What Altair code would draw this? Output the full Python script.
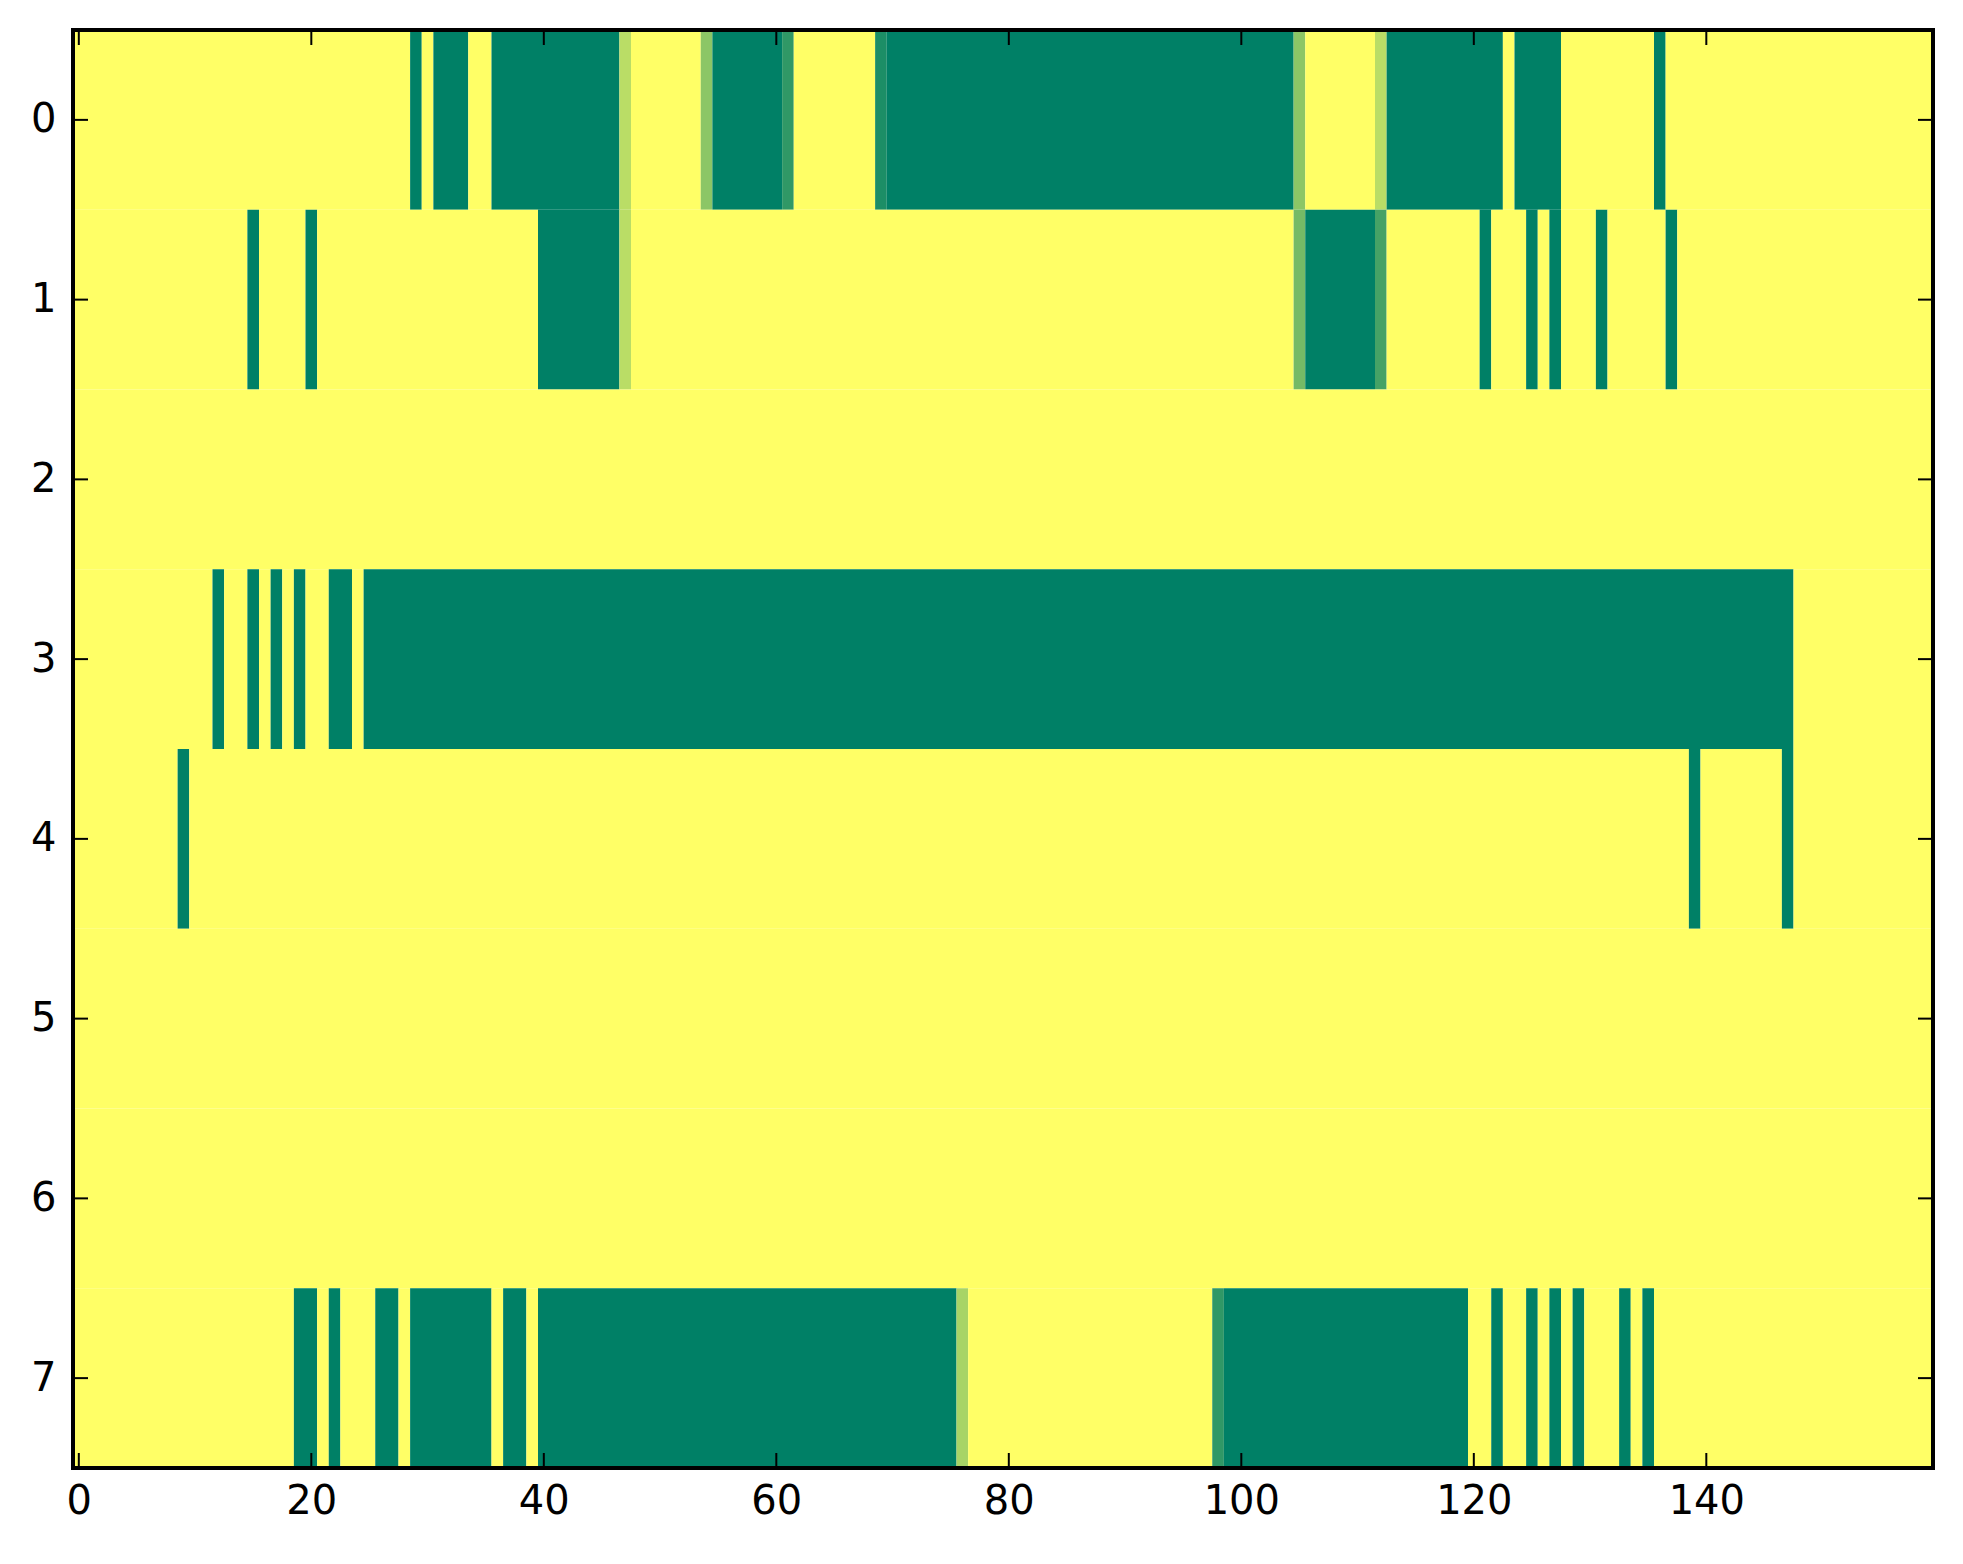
import altair as alt
import pandas as pd

n_cols = 160
n_rows = 8

# runs of fully "on" cells per row (first, last column, inclusive)
row0_runs = [(29, 29), (31, 33), (36, 46), (55, 60), (70, 104), (113, 122), (124, 127), (136, 136)]
row1_runs = [(15, 15), (20, 20), (40, 46), (106, 111), (121, 121), (125, 125), (127, 127), (131, 131), (137, 137)]
row2_runs = []
row3_runs = [(12, 12), (15, 15), (17, 17), (19, 19), (22, 23), (25, 147)]
row4_runs = [(9, 9), (139, 139), (147, 147)]
row5_runs = []
row6_runs = []
row7_runs = [(19, 20), (22, 22), (26, 27), (29, 35), (37, 38), (40, 75), (99, 119),
             (122, 122), (125, 125), (127, 127), (129, 129), (133, 133), (135, 135)]

# cells with in-between values (column: value)
row0_partial = {47: 0.27, 54: 0.45, 61: 0.81, 69: 0.89, 105: 0.45, 112: 0.27}
row1_partial = {47: 0.27, 105: 0.54, 112: 0.73}
row7_partial = {76: 0.34, 98: 0.81}

x_ticks = [0, 20, 40, 60, 80, 100, 120, 140]
y_ticks = [0, 1, 2, 3, 4, 5, 6, 7]

all_runs = [row0_runs, row1_runs, row2_runs, row3_runs, row4_runs, row5_runs, row6_runs, row7_runs]
all_partial = {0: row0_partial, 1: row1_partial, 7: row7_partial}

# full grid, then neighbouring cells of equal value joined into one rect (no seams)
records = []
for r in range(n_rows):
    vals = [0.0] * n_cols
    for a, b in all_runs[r]:
        for c in range(a, b + 1):
            vals[c] = 1.0
    for c, v in all_partial.get(r, {}).items():
        vals[c] = v
    start = 0
    for c in range(1, n_cols + 1):
        if c == n_cols or vals[c] != vals[start]:
            records.append({"row": r, "x0": start - 0.5, "x1": c - 0.5,
                            "y0": r - 0.5, "y1": r + 0.5, "value": vals[start]})
            start = c
cells = pd.DataFrame(records)

W, H = 1860, 1438
TICK = 15
font = "DejaVu Sans"

cmap = alt.Scale(domain=[0, 1], range=["#ffff66", "#008066"], interpolate="rgb")
x_scale = alt.Scale(domain=[-0.5, n_cols - 0.5], nice=False, zero=False)
y_scale = alt.Scale(domain=[-0.5, n_rows - 0.5], nice=False, zero=False, reverse=True)

x_axis = alt.Axis(values=x_ticks, ticks=False, domain=False, grid=False, title=None,
                  labelFontSize=40, labelFont=font, labelColor="black",
                  labelPadding=13, labelFlush=False, labelOverlap=False)
y_axis = alt.Axis(values=y_ticks, ticks=False, domain=False, grid=False, title=None,
                  labelFontSize=40, labelFont=font, labelColor="black",
                  labelPadding=17, labelFlush=False, labelOverlap=False)

heat = alt.Chart(cells).mark_rect().encode(
    x=alt.X("x0:Q", scale=x_scale, axis=x_axis),
    x2="x1:Q",
    y=alt.Y("y0:Q", scale=y_scale, axis=y_axis),
    y2="y1:Q",
    fill=alt.Color("value:Q", scale=cmap, legend=None),
)

xt = pd.DataFrame({"x0": x_ticks})
yt = pd.DataFrame({"y0": y_ticks})

tick_bottom = alt.Chart(xt).mark_rule(color="black", strokeWidth=2).encode(
    x=alt.X("x0:Q", axis=x_axis), y=alt.value(H), y2=alt.value(H - TICK))
tick_top = alt.Chart(xt).mark_rule(color="black", strokeWidth=2).encode(
    x=alt.X("x0:Q", axis=x_axis), y=alt.value(0), y2=alt.value(TICK))
tick_left = alt.Chart(yt).mark_rule(color="black", strokeWidth=2).encode(
    y=alt.Y("y0:Q", axis=y_axis), x=alt.value(0), x2=alt.value(TICK))
tick_right = alt.Chart(yt).mark_rule(color="black", strokeWidth=2).encode(
    y=alt.Y("y0:Q", axis=y_axis), x=alt.value(W), x2=alt.value(W - TICK))

frame = alt.Chart(pd.DataFrame({"k": [0]})).mark_rect(
    fillOpacity=0, stroke="black", strokeWidth=4).encode(
    x=alt.value(0), x2=alt.value(W), y=alt.value(0), y2=alt.value(H))

chart = alt.layer(heat, tick_bottom, tick_top, tick_left, tick_right, frame).properties(
    width=W,
    height=H,
    autosize=alt.AutoSizeParams(type="none"),
    padding={"left": 65, "top": 22, "right": 20, "bottom": 80},
).configure_view(
    strokeWidth=0
).configure(background="white")

chart.save("out.html", embed_options={"renderer": "svg", "actions": False})
